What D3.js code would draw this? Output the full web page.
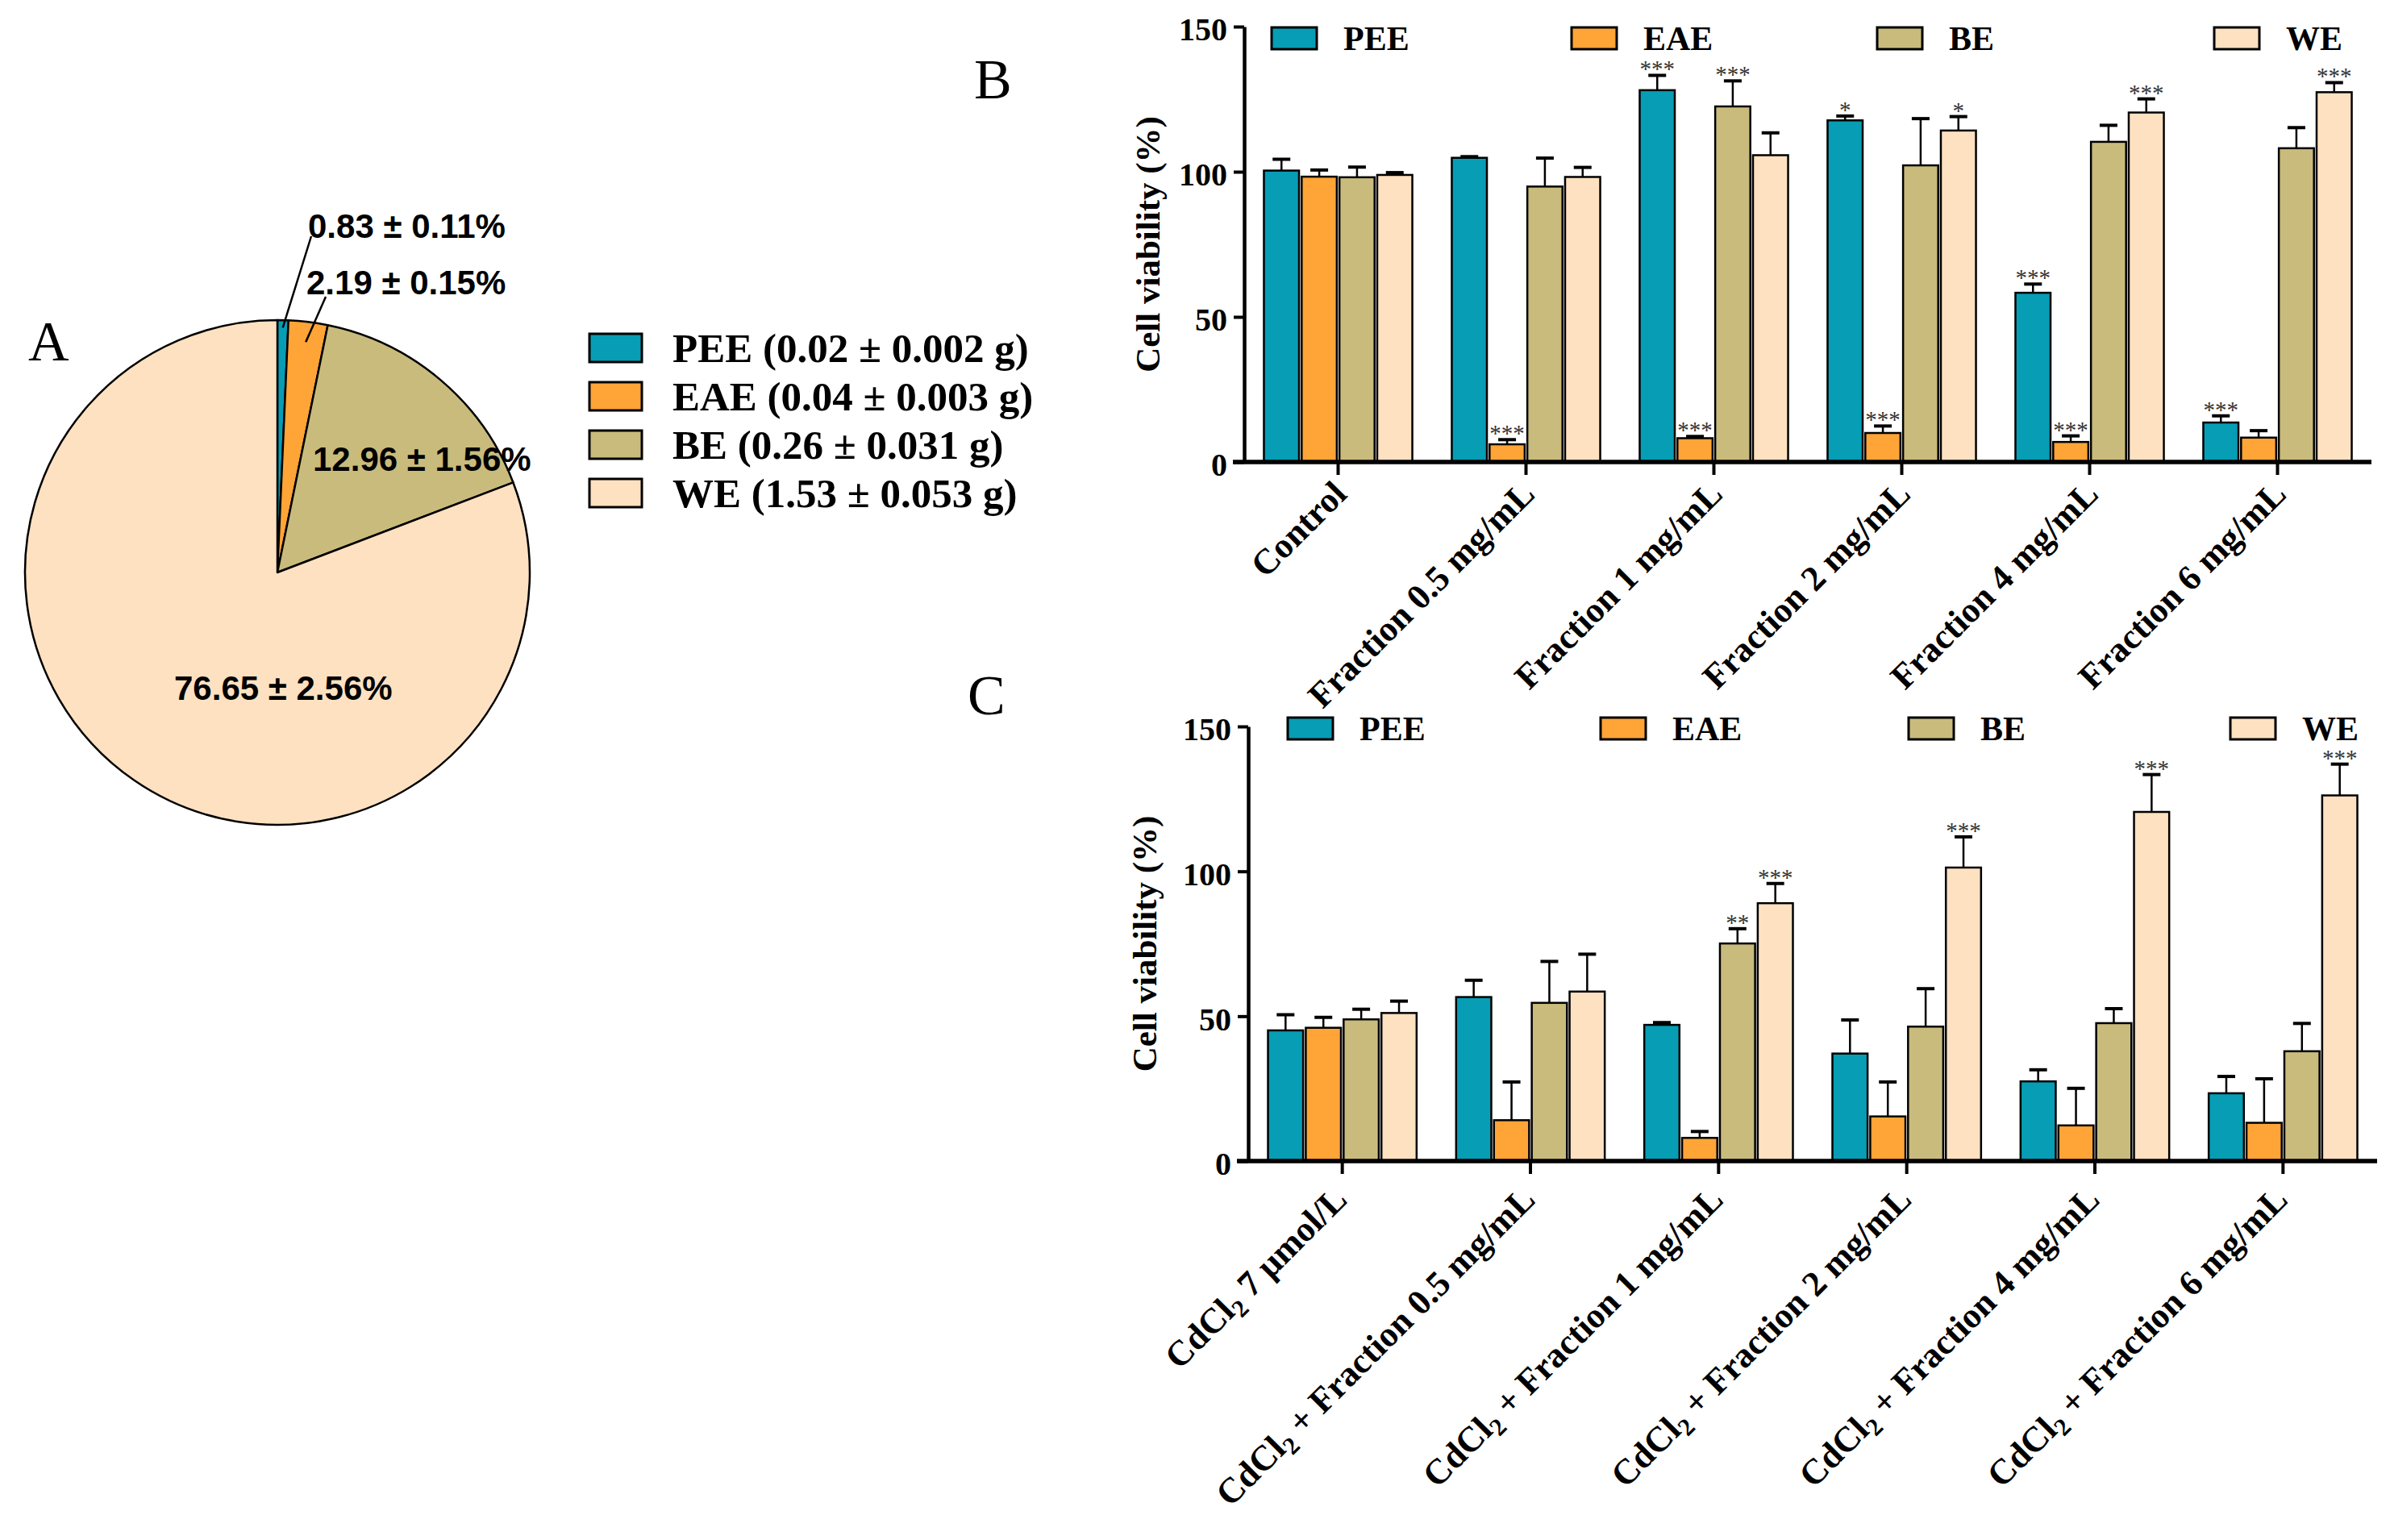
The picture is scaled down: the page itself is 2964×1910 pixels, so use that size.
<!DOCTYPE html>
<html>
<head>
<meta charset="utf-8">
<script src="https://cdnjs.cloudflare.com/ajax/libs/d3/7.8.5/d3.min.js"></script>
<style>
  body { margin: 0; background: #fff; }
  svg { display: block; }
</style>
</head>
<body>
<svg width="2964" height="1910"></svg>
<script>
var svg = d3.select('svg');
var serif = '"Liberation Serif", "Times New Roman", serif';
var sans = '"Liberation Sans", Arial, sans-serif';

// extracts and their colours
var series = ['PEE', 'EAE', 'BE', 'WE'];
var colors = ['#069db5', '#ffa436', '#c9bb7c', '#fee1c1'];

////////////////////////////// DATA ///////////////////////////////

// panel A - slice sizes as drawn, printed labels, legend
var pieShares = [0.7, 2.5, 16.0, 80.8];
var pieLabels = ['0.83 ± 0.11%', '2.19 ± 0.15%', '12.96 ± 1.56%', '76.65 ± 2.56%'];
var pieLegend = ['PEE (0.02 ± 0.002 g)', 'EAE (0.04 ± 0.003 g)', 'BE (0.26 ± 0.031 g)', 'WE (1.53 ± 0.053 g)'];

// panel B - cell viability of fractions alone
var catsB = ['Control', 'Fraction 0.5 mg/mL', 'Fraction 1 mg/mL', 'Fraction 2 mg/mL', 'Fraction 4 mg/mL', 'Fraction 6 mg/mL'];
var peeB = [100.4, 104.8, 128.1, 117.7, 58.3, 13.6];
var eaeB = [98.3, 6.1, 8.2, 10.0, 6.9, 8.4];
var beB  = [98.1, 94.9, 122.5, 102.2, 110.3, 108.1];
var weB  = [98.9, 98.2, 105.7, 114.2, 120.4, 127.4];
var peeBErr = [3.9, 0.4, 5.1, 1.5, 3.0, 2.3];
var eaeBErr = [2.3, 1.6, 0.6, 2.4, 2.1, 2.4];
var beBErr  = [3.5, 9.8, 8.8, 16.1, 5.7, 7.1];
var weBErr  = [0.8, 3.3, 7.7, 4.8, 4.7, 3.3];
// [category index, extract, mark]
var sigB = [[1, 'EAE', '***'], [2, 'PEE', '***'], [2, 'EAE', '***'], [2, 'BE', '***'],
            [3, 'PEE', '*'], [3, 'EAE', '***'], [3, 'WE', '*'], [4, 'PEE', '***'],
            [4, 'EAE', '***'], [4, 'WE', '***'], [5, 'PEE', '***'], [5, 'WE', '***']];

// panel C - cell viability with CdCl2
var catsC = ['CdCl2 7 μmol/L', 'CdCl2 + Fraction 0.5 mg/mL', 'CdCl2 + Fraction 1 mg/mL',
             'CdCl2 + Fraction 2 mg/mL', 'CdCl2 + Fraction 4 mg/mL', 'CdCl2 + Fraction 6 mg/mL'];
var peeC = [45.1, 56.6, 47.0, 37.1, 27.5, 23.4];
var eaeC = [46.0, 14.1, 8.0, 15.4, 12.3, 13.2];
var beC  = [48.9, 54.6, 75.1, 46.4, 47.6, 37.9];
var weC  = [51.1, 58.5, 89.0, 101.3, 120.5, 126.2];
var peeCErr = [5.4, 5.8, 0.8, 11.6, 4.0, 5.8];
var eaeCErr = [3.6, 13.2, 2.2, 11.9, 12.8, 15.2];
var beCErr  = [3.5, 14.3, 5.1, 13.1, 5.0, 9.6];
var weCErr  = [4.1, 12.9, 6.8, 10.6, 12.9, 10.8];
var sigC = [[2, 'BE', '**'], [2, 'WE', '***'], [3, 'WE', '***'], [4, 'WE', '***'], [5, 'WE', '***']];

var yTicks = [0, 50, 100, 150];

////////////////////////////// PANEL A - PIE ///////////////////////////////

var pieCx = 344, pieCy = 710, R = 313;
// label anchors relative to the pie centre
var pieLabelPos = [[38, -415], [36, -345], [44, -126], [-128, 158]];

var pieG = svg.append('g').attr('transform', 'translate(' + pieCx + ',' + pieCy + ')');
var arcs = d3.pie().sort(null).value(d => d)(pieShares);
var arc = d3.arc().innerRadius(0).outerRadius(R);

pieG.selectAll('path')
  .data(arcs)
  .join('path')
    .attr('d', arc)
    .attr('fill', (d, i) => colors[i])
    .attr('stroke', '#000')
    .attr('stroke-width', 2.5)
    .attr('stroke-linejoin', 'round');

pieG.selectAll('text.plab')
  .data(pieLabels)
  .join('text')
    .attr('class', 'plab')
    .attr('x', (d, i) => pieLabelPos[i][0])
    .attr('y', (d, i) => pieLabelPos[i][1])
    .attr('font-family', sans)
    .attr('font-weight', 'bold')
    .attr('font-size', 42)
    .text(d => d);

// leader lines for the two thin slices
var leaderEnd = [[4, -2], [24, 3]];
var leaderR = [0.97, 0.92];
[0, 1].forEach(function (i) {
  var a = (arcs[i].startAngle + arcs[i].endAngle) / 2;
  pieG.append('line')
    .attr('x1', Math.sin(a) * R * leaderR[i])
    .attr('y1', -Math.cos(a) * R * leaderR[i])
    .attr('x2', pieLabelPos[i][0] + leaderEnd[i][0])
    .attr('y2', pieLabelPos[i][1] + leaderEnd[i][1])
    .attr('stroke', '#000')
    .attr('stroke-width', 2.5);
});

// pie legend
var legA = svg.append('g').attr('transform', 'translate(731,414)');
pieLegend.forEach(function (t, i) {
  legA.append('rect')
    .attr('x', 0).attr('y', i * 60)
    .attr('width', 65).attr('height', 35)
    .attr('fill', colors[i])
    .attr('stroke', '#000').attr('stroke-width', 3);
  legA.append('text')
    .attr('x', 103).attr('y', i * 60 + 35)
    .attr('font-family', serif)
    .attr('font-weight', 'bold')
    .attr('font-size', 51)
    .text(t);
});

////////////////////////////// PANELS B AND C - BARS ///////////////////////////////

// writes a category label, setting the 2 of CdCl2 as a subscript
function fillLabel(t, str) {
  str.split('CdCl2').forEach(function (part, k) {
    if (k > 0) {
      t.append('tspan').text('CdCl');
      t.append('tspan').attr('font-size', '0.7em').attr('dy', 9).text('2');
      t.append('tspan').attr('dy', -9).text(part);
    } else if (part) {
      t.append('tspan').text(part);
    }
  });
}

function drawBars(p) {
  var g = svg.append('g');

  var x = d3.scaleBand()
    .domain(p.cats)
    .range(p.xRange)
    .paddingInner(0.21)
    .paddingOuter(0.105);
  var xs = d3.scaleBand()
    .domain(series)
    .range([0, x.bandwidth()])
    .paddingInner(0.07);
  var y = d3.scaleLinear()
    .domain([0, 150])
    .range(p.yRange);

  var rows = [];
  p.cats.forEach(function (c, i) {
    series.forEach(function (s, j) {
      rows.push({ cat: c, ser: s, v: p.means[j][i], e: p.errs[j][i], col: colors[j],
                  cx: x(c) + xs(s) + xs.bandwidth() / 2 });
    });
  });

  // error bars (upper only)
  g.append('g').selectAll('line')
    .data(rows)
    .join('line')
      .attr('x1', d => d.cx).attr('x2', d => d.cx)
      .attr('y1', d => y(d.v)).attr('y2', d => y(d.v + d.e))
      .attr('stroke', '#000').attr('stroke-width', 2.5);
  g.append('g').selectAll('line')
    .data(rows)
    .join('line')
      .attr('x1', d => d.cx - 11).attr('x2', d => d.cx + 11)
      .attr('y1', d => y(d.v + d.e)).attr('y2', d => y(d.v + d.e))
      .attr('stroke', '#000').attr('stroke-width', 4);

  g.append('g').selectAll('rect')
    .data(rows)
    .join('rect')
      .attr('x', d => x(d.cat) + xs(d.ser))
      .attr('y', d => y(d.v))
      .attr('width', xs.bandwidth())
      .attr('height', d => y(0) - y(d.v))
      .attr('fill', d => d.col)
      .attr('stroke', '#000')
      .attr('stroke-width', 2.5);

  // significance marks
  g.append('g').selectAll('text')
    .data(p.sig)
    .join('text')
      .attr('x', d => x(p.cats[d[0]]) + xs(d[1]) + xs.bandwidth() / 2)
      .attr('y', function (d) {
        var j = series.indexOf(d[1]);
        return y(p.means[j][d[0]] + p.errs[j][d[0]]) + 2;
      })
      .attr('text-anchor', 'middle')
      .attr('font-family', serif)
      .attr('font-size', 29)
      .attr('fill', '#333')
      .text(d => d[2]);

  // y axis
  var yAxis = g.append('g')
    .attr('transform', 'translate(' + p.xRange[0] + ',0)')
    .call(d3.axisLeft(y).tickValues(yTicks).tickSize(13).tickPadding(8).tickSizeOuter(0));
  yAxis.select('.domain').attr('stroke-width', 4.5);
  yAxis.selectAll('.tick line').attr('stroke-width', 4);
  yAxis.selectAll('.tick text')
    .attr('font-family', serif)
    .attr('font-weight', 'bold')
    .attr('font-size', 40)
    .attr('fill', '#000')
    .attr('dy', '0.42em');

  // x axis
  g.append('line')
    .attr('x1', p.xRange[0] - 14).attr('x2', p.xRange[1])
    .attr('y1', y(0)).attr('y2', y(0))
    .attr('stroke', '#000').attr('stroke-width', 5.5);
  g.append('g').selectAll('line')
    .data(p.cats)
    .join('line')
      .attr('x1', d => x(d) + x.bandwidth() / 2).attr('x2', d => x(d) + x.bandwidth() / 2)
      .attr('y1', y(0)).attr('y2', y(0) + 16)
      .attr('stroke', '#000').attr('stroke-width', 4);

  g.append('g').selectAll('text')
    .data(p.cats)
    .join('text')
      .attr('transform', d => 'translate(' + (x(d) + x.bandwidth() / 2 + p.labOff[0]) + ',' + (y(0) + p.labOff[1]) + ')rotate(-45)')
      .attr('text-anchor', 'end')
      .attr('font-family', serif)
      .attr('font-weight', 'bold')
      .attr('font-size', 44)
      .each(function (d) { fillLabel(d3.select(this), d); });

  // y label
  g.append('text')
    .attr('transform', 'translate(' + p.yLabX + ',' + ((p.yRange[0] + p.yRange[1]) / 2) + ')rotate(-90)')
    .attr('text-anchor', 'middle')
    .attr('font-family', serif)
    .attr('font-weight', 'bold')
    .attr('font-size', 43)
    .text('Cell viability (%)');

  // legend
  series.forEach(function (s, i) {
    g.append('rect')
      .attr('x', p.legX[i]).attr('y', p.legY)
      .attr('width', 56).attr('height', 27)
      .attr('fill', colors[i])
      .attr('stroke', '#000').attr('stroke-width', 3);
    g.append('text')
      .attr('x', p.legX[i] + 89).attr('y', p.legY + 28)
      .attr('font-family', serif)
      .attr('font-weight', 'bold')
      .attr('font-size', 42)
      .text(s);
  });

  // panel letter
  svg.append('text')
    .attr('x', p.letter[0]).attr('y', p.letter[1])
    .attr('font-family', serif)
    .attr('font-size', 70)
    .text(p.letter[2]);
}

drawBars({
  cats: catsB,
  means: [peeB, eaeB, beB, weB],
  errs: [peeBErr, eaeBErr, beBErr, weBErr],
  sig: sigB,
  xRange: [1543, 2941],
  yRange: [573, 33],
  labOff: [13, 42],
  yLabX: 1438,
  legX: [1577, 1949, 2328, 2746],
  legY: 34,
  letter: [1208, 122, 'B']
});

drawBars({
  cats: catsC,
  means: [peeC, eaeC, beC, weC],
  errs: [peeCErr, eaeCErr, beCErr, weCErr],
  sig: sigC,
  xRange: [1548, 2948],
  yRange: [1440, 901],
  labOff: [8, 50],
  yLabX: 1434,
  legX: [1597, 1985, 2367, 2766],
  legY: 890,
  letter: [1200, 886, 'C']
});

svg.append('text')
  .attr('x', 35).attr('y', 447)
  .attr('font-family', serif)
  .attr('font-size', 70)
  .text('A');
</script>
</body>
</html>
